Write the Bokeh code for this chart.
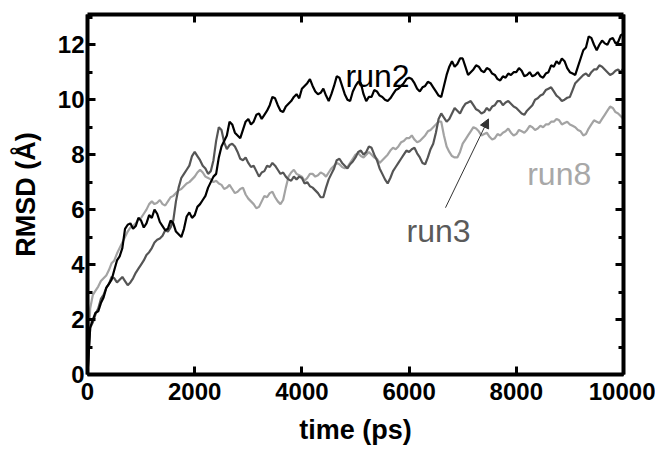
from bokeh.plotting import figure
from bokeh.models import Range1d, LinearAxis, SingleIntervalTicker, Arrow, NormalHead, CustomLabelingPolicy
from bokeh.core.properties import value
from bokeh.embed import file_html
from bokeh.resources import INLINE

# ---------------- data, every 50 ps ----------------
time_ps = list(range(0, 10001, 50))

run2 = [0.0, 1.7, 2.0, 2.25, 2.3, 2.6, 2.8, 3.15, 3.3, 3.45,
        3.8, 4.15, 4.3, 4.6, 5.3, 5.45, 5.5, 5.3, 5.4, 5.7,
        5.6, 5.35, 5.5, 5.8, 5.7, 6.0, 5.85, 5.55, 5.4, 5.25,
        5.3, 5.6, 5.5, 5.2, 5.1, 5.0, 5.3, 5.75, 5.9, 5.7,
        5.8, 6.1, 6.2, 6.35, 6.5, 6.8, 7.0, 7.2, 7.3, 7.9,
        8.3, 8.5, 8.7, 9.2, 9.1, 8.8, 8.7, 8.6, 8.9, 9.2,
        9.3, 9.1, 9.2, 9.45, 9.5, 9.3, 9.45, 9.6, 9.8, 10.1,
        10.05, 9.8, 9.6, 9.55, 9.75, 9.85, 9.95, 10.1, 10.2, 10.05,
        10.4, 10.5, 10.6, 10.75, 10.5, 10.3, 10.2, 10.25, 10.4, 10.15,
        9.95, 10.2, 10.5, 10.85, 10.8, 10.5, 10.2, 10.0, 9.95, 10.3,
        10.5, 10.65, 10.6, 10.2, 9.95, 10.1, 10.1, 10.35, 10.3, 10.15,
        10.1, 10.0, 9.95, 10.05, 10.2, 10.35, 10.4, 10.5, 10.6, 10.75,
        10.8, 10.75, 10.6, 10.4, 10.3, 10.45, 10.5, 10.65, 10.6, 10.45,
        10.3, 10.15, 10.1, 10.5, 10.9, 11.2, 11.4, 11.2, 11.3, 11.5,
        11.5, 11.2, 10.9, 11.0, 11.1, 11.25, 11.2, 11.05, 11.0, 11.15,
        11.1, 10.95, 10.9, 10.75, 10.7, 10.85, 10.8, 10.95, 10.9, 11.0,
        11.0, 11.15, 11.05, 10.85, 10.9, 11.0, 10.85, 10.9, 11.0, 10.85,
        10.8, 10.95, 11.0, 11.25, 11.2, 11.4, 11.3, 11.5, 11.4, 11.15,
        11.0, 10.95, 10.9, 11.2, 11.5, 11.8, 11.9, 12.3, 12.25, 12.0,
        11.8, 12.0, 12.15, 12.05, 12.0, 12.2, 12.25, 12.05, 12.1, 12.35,
        12.4]

run3 = [0.0, 1.7, 1.9, 2.2, 2.4, 2.75, 2.9, 3.15, 3.3, 3.55,
        3.5, 3.35, 3.45, 3.55, 3.4, 3.25, 3.35, 3.5, 3.7, 3.85,
        4.0, 4.15, 4.35, 4.45, 4.6, 4.8, 4.9, 4.95, 5.05, 5.25,
        5.2, 5.35, 5.6, 6.3, 6.8, 7.15, 7.3, 7.45, 7.6, 7.95,
        8.1, 7.95, 7.8, 7.6, 7.5, 7.3, 7.4, 7.8, 8.5, 9.0,
        8.9, 8.45, 8.2, 8.35, 8.4, 8.3, 8.1, 7.85, 7.8, 7.9,
        7.7, 7.55, 7.6, 7.4, 7.2, 7.35, 7.4, 7.6, 7.55, 7.7,
        7.6, 7.45, 7.3, 7.35, 7.2, 7.1, 7.05, 7.2, 7.1, 7.2,
        7.15, 6.95, 7.0, 6.85, 6.8, 6.7, 6.6, 6.45, 6.45, 6.8,
        7.1, 7.3, 7.5, 7.8, 7.85, 7.7, 7.6, 7.5, 7.65, 7.75,
        7.9, 8.1, 8.15, 8.0, 8.1, 8.3, 8.25, 8.0, 7.8, 7.5,
        7.3, 7.1, 6.95, 7.15, 7.4, 7.55, 7.7, 7.85, 8.0, 8.15,
        8.1, 8.2, 8.25, 8.05, 7.9, 7.7, 7.65, 7.9, 8.2, 8.4,
        8.8, 9.3, 9.5, 9.35, 9.2, 9.3, 9.5, 9.7, 9.6, 9.5,
        9.7, 9.85, 9.9, 9.95, 9.8, 9.65, 9.6, 9.5, 9.55, 9.7,
        9.6, 9.75, 9.8, 9.95, 9.95, 9.8, 9.9, 9.95, 9.85, 9.75,
        9.7, 9.6, 9.5, 9.45, 9.6, 9.7, 9.8, 10.0, 10.05, 10.15,
        10.2, 10.35, 10.4, 10.45, 10.3, 10.15, 10.07, 9.95, 10.0, 10.07,
        10.1, 10.35, 10.6, 10.7, 10.8, 10.9, 10.95, 10.85, 11.0, 11.1,
        11.1, 11.25, 11.2, 11.1, 11.0, 10.9, 10.95, 11.05, 11.1, 11.0,
        11.15]

run8 = [0.0, 2.4, 2.9, 3.05, 3.2, 3.4, 3.5, 3.6, 3.8, 4.05,
        4.15, 4.4, 4.6, 4.8, 5.0, 5.2, 5.35, 5.4, 5.5, 5.65,
        5.7, 5.85, 6.0, 6.2, 6.3, 6.2, 6.25, 6.35, 6.2, 6.15,
        6.3, 6.45, 6.5, 6.6, 6.7, 6.75, 6.85, 6.95, 7.0, 7.1,
        7.2, 7.35, 7.45, 7.35, 7.2, 7.15, 7.1, 7.0, 7.05, 6.95,
        6.9, 6.75, 6.8, 6.9, 6.75, 6.6, 6.65, 6.75, 6.8, 6.55,
        6.4, 6.3, 6.2, 6.05, 6.1, 6.3, 6.5, 6.45, 6.6, 6.65,
        6.45, 6.3, 6.2, 6.35, 6.8, 7.2, 7.35, 7.45, 7.3, 7.25,
        7.2, 7.05, 7.15, 7.3, 7.3, 7.2, 7.25, 7.35, 7.3, 7.2,
        7.35, 7.5, 7.6, 7.7, 7.65, 7.55, 7.5, 7.55, 7.7, 7.85,
        8.0, 8.05, 7.95, 7.9, 8.0, 8.1, 8.0, 7.9, 7.85, 7.7,
        7.8, 7.9, 8.0, 8.15, 8.25, 8.2, 8.3, 8.45, 8.5, 8.6,
        8.6, 8.7, 8.55, 8.45, 8.5, 8.6, 8.7, 8.85, 8.9, 9.0,
        9.1, 9.2, 9.2, 8.7, 8.3, 8.1, 7.95, 7.9, 7.9, 8.1,
        8.4, 8.55, 8.7, 8.85, 9.0, 8.95, 8.85, 8.7, 8.75, 8.8,
        8.65, 8.55, 8.6, 8.75, 8.7, 8.8, 8.85, 8.95, 8.8, 8.7,
        8.75, 8.9, 8.85, 8.8, 8.9, 9.05, 9.0, 8.9, 8.95, 9.05,
        9.0, 9.1, 9.1, 9.2, 9.2, 9.3, 9.25, 9.1, 9.15, 9.2,
        9.1, 9.05, 9.0, 8.9, 8.85, 8.7, 8.75, 8.95, 9.1, 9.25,
        9.2, 9.15, 9.3, 9.45, 9.6, 9.75, 9.7, 9.55, 9.5, 9.4,
        9.3]

series_names = ["run2", "run3", "run8"]
series_colors = ["#000000", "#555555", "#a3a3a3"]
label_colors = ["#000000", "#5a5a5a", "#a8a8a8"]
label_x = [4813, 5951, 8203]
label_y = [10.87, 5.24, 7.3]

x_tick_step = 2000
y_tick_step = 2

FONT = "Liberation Sans"

p = figure(width=655, height=452, output_backend="svg", toolbar_location=None,
           x_range=Range1d(0, 10000), y_range=Range1d(0, 13.1),
           x_axis_location=None, y_axis_location=None,
           min_border_left=87, min_border_right=32, min_border_top=14, min_border_bottom=78)
p.outline_line_color = None
p.xgrid.visible = False
p.ygrid.visible = False
p.background_fill_color = "white"
p.border_fill_color = "white"

hide_all = CustomLabelingPolicy(code="""
    for (const i of Array.from(indices)) { indices.unset(i) }
    return indices
""")


def style_axis(ax, labels=True):
    ax.axis_line_width = 4
    ax.axis_line_color = "black"
    ax.major_tick_in = 8
    ax.major_tick_out = 0
    ax.minor_tick_in = 5
    ax.minor_tick_out = 0
    ax.major_tick_line_width = 3
    ax.minor_tick_line_width = 3
    ax.major_label_text_font = FONT
    ax.major_label_text_font_style = "bold"
    ax.major_label_text_color = "black"
    ax.axis_label_text_font = FONT
    ax.axis_label_text_font_style = "bold"
    ax.axis_label_text_font_size = "27px"
    ax.axis_label_text_color = "black"
    if labels:
        ax.major_label_text_font_size = "24px"
    else:
        ax.major_label_text_font_size = "1px"
        ax.major_label_standoff = 0
        ax.major_label_policy = hide_all


xb = LinearAxis(ticker=SingleIntervalTicker(interval=x_tick_step, num_minor_ticks=0),
                axis_label="time (ps)")
style_axis(xb)
xb.major_label_standoff = 8
xb.axis_label_standoff = 12
p.add_layout(xb, "below")

xt = LinearAxis(ticker=SingleIntervalTicker(interval=x_tick_step, num_minor_ticks=0))
style_axis(xt, labels=False)
p.add_layout(xt, "above")

yl = LinearAxis(ticker=SingleIntervalTicker(interval=y_tick_step, num_minor_ticks=2),
                axis_label="RMSD (Å)")
style_axis(yl)
yl.major_label_standoff = 3
yl.axis_label_standoff = 14
p.add_layout(yl, "left")

yr = LinearAxis(ticker=SingleIntervalTicker(interval=y_tick_step, num_minor_ticks=2))
style_axis(yr, labels=False)
p.add_layout(yr, "right")

for ys, c in zip([run8, run3, run2], [series_colors[2], series_colors[1], series_colors[0]]):
    p.line(time_ps, ys, line_color=c, line_width=2.2)

p.text(x=label_x, y=label_y, text=series_names, text_color=label_colors,
       text_font=value(FONT), text_font_size=value("32px"),
       text_baseline="alphabetic", text_align="left")

p.add_layout(Arrow(end=NormalHead(size=9, fill_color="#333333", line_color="#333333"),
                   x_start=6679, y_start=6.07, x_end=7481, y_end=9.3,
                   line_color="#333333", line_width=1))

open("out.html", "w").write(file_html(p, INLINE))
